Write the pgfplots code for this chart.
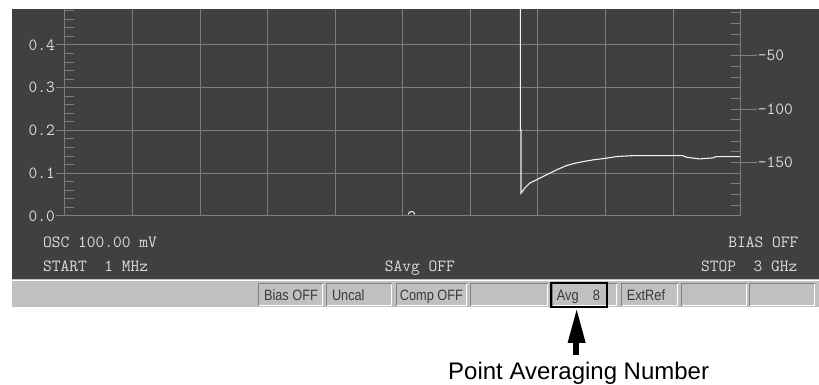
\documentclass[border=0pt]{standalone}
\usepackage{fontspec}
\usepackage{pgfplots}
\pgfplotsset{compat=1.18}
\newfontfamily\sbfont[FakeStretch=0.85]{Liberation Sans}
\newfontfamily\lsans{Liberation Sans}
\definecolor{bgdark}{HTML}{404040}
\definecolor{gridc}{HTML}{7E7E7E}
\definecolor{txtc}{HTML}{DCDCDC}
\definecolor{tracec}{HTML}{F2F2F2}
\definecolor{barc}{HTML}{C0C0C0}
\definecolor{edgedark}{HTML}{808080}
\definecolor{bartxt}{HTML}{3A3A3A}
\newcommand{\dispfont}{\fontsize{17bp}{17bp}\selectfont\ttfamily}
\newcommand{\barfont}{\sbfont\fontsize{15bp}{15bp}\selectfont}
\pgfdeclareplotmark{arcup}{%
  \pgfpathmoveto{\pgfpoint{-3.2bp}{-1.5bp}}%
  \pgfpathcurveto{\pgfpoint{-3.2bp}{2.4bp}}{\pgfpoint{3.2bp}{2.4bp}}{\pgfpoint{3.2bp}{-1.5bp}}%
  \pgfusepathqstroke}
\begin{document}
\begin{tikzpicture}
\begin{scope}[x=1bp,y=-1bp]
\path[use as bounding box] (0,0) rectangle (819,385);
\fill[white] (0,0) rectangle (819,385);
\fill[bgdark] (12,9) rectangle (819,279);
\end{scope}
% left axis
\begin{axis}[
  at={(65bp,-216bp)}, anchor=south west,
  width=676bp, height=207bp, scale only axis,
  xmin=0, xmax=10, ymin=0, ymax=0.4842,
  axis x line*=bottom, axis y line*=left,
  axis line style={draw=gridc, line width=1bp},
  xtick={0,1,...,10}, xticklabels={},
  ytick={0,0.1,0.2,0.3,0.4},
  yticklabels={0.0,0.1,0.2,0.3,0.4},
  grid=major,
  major grid style={draw=gridc, line width=1bp},
  tick style={draw=gridc, line width=1bp},
  xtick style={draw=none},
  tick align=outside, major tick length=9bp,
  extra y ticks={0.02,0.04,0.06,0.08,0.12,0.14,0.16,0.18,0.22,0.24,0.26,0.28,0.32,0.34,0.36,0.38,0.42,0.44,0.46,0.48},
  extra y tick labels={},
  extra y tick style={grid=none, tick align=inside, major tick length=9bp},
  yticklabel style={font=\dispfont, text=txtc, anchor=east, inner sep=0pt, xshift=-1bp},
  /pgf/number format/assume math mode=true,
]
\addplot[tracec, line width=1.1bp] coordinates {
(6.741,0.60) (6.741,0.201) (6.750,0.201) (6.750,0.053) (6.765,0.056)
(6.805,0.0648) (6.879,0.0765) (6.978,0.0842) (7.075,0.092) (7.175,0.0998)
(7.297,0.109) (7.422,0.1177) (7.544,0.123) (7.667,0.127) (7.815,0.131)
(8.013,0.135) (8.161,0.1388) (8.407,0.141) (9.146,0.141) (9.197,0.1373)
(9.393,0.1333) (9.590,0.1357) (9.641,0.1388) (10,0.1388)
};
\addplot[tracec, line width=1bp, only marks, mark=arcup] coordinates {(5.13,0.007)};
\end{axis}
% right axis
\begin{axis}[
  at={(65bp,-216bp)}, anchor=south west,
  width=676bp, height=207bp, scale only axis,
  xmin=0, xmax=10, ymin=-200, ymax=-6.3,
  axis x line=none, axis y line*=right,
  axis line style={draw=gridc, line width=1bp},
  ytick={-190,-180,...,-10},
  yticklabels={},
  tick style={draw=gridc, line width=1bp},
  tick align=inside, major tick length=10bp,
  extra y ticks={-150,-100,-50},
  extra y tick labels={{-150},{-100},{-50}},
  extra y tick style={tick align=outside, major tick length=16bp},
  yticklabel style={font=\dispfont, text=txtc, anchor=west, inner sep=0pt, xshift=1bp},
  /pgf/number format/assume math mode=true,
]
\end{axis}
\begin{scope}[x=1bp,y=-1bp]
% lower display text
\node[anchor=base west, inner sep=0pt, font=\dispfont, text=txtc] at (43,248) {OSC 100.00 mV};
\node[anchor=base west, inner sep=0pt, font=\dispfont, text=txtc] at (43,272) {START\ \ 1 MHz};
\node[anchor=base west, inner sep=0pt, font=\dispfont, text=txtc] at (385,272) {SAvg OFF};
\node[anchor=base east, inner sep=0pt, font=\dispfont, text=txtc] at (799,248) {BIAS OFF};
\node[anchor=base east, inner sep=0pt, font=\dispfont, text=txtc] at (798,272) {STOP\ \ 3 GHz};
% status bar
\fill[barc] (12,279) rectangle (819,307);
\draw[white, line width=1bp] (12,280.5) -- (819,280.5);
\foreach \a/\b in {259/323,327/392,397/467,471/548,553/617,622/678,682/747,750/815} {
  \draw[edgedark, line width=1bp] (\a,306) -- (\a,284) -- (\b,284);
  \draw[white, line width=1bp] (\b,284) -- (\b,306) -- (\a,306);
}
\node[anchor=base west, inner sep=0pt, font=\barfont, text=bartxt] at (264,300.5) {Bias OFF};
\node[anchor=base west, inner sep=0pt, font=\barfont, text=bartxt] at (332,300.5) {Uncal};
\node[anchor=base west, inner sep=0pt, font=\barfont, text=bartxt] at (400,300.5) {Comp OFF};
\node[anchor=base west, inner sep=0pt, font=\barfont, text=bartxt] at (557,300.5) {Avg};
\node[anchor=base west, inner sep=0pt, font=\barfont, text=bartxt] at (593,300.5) {8};
\node[anchor=base west, inner sep=0pt, font=\barfont, text=bartxt] at (627,300.5) {ExtRef};
\draw[black, line width=2bp] (551,283) rectangle (607,307);
% arrow and caption
\fill[black] (577,310) -- (586,343) -- (568,343) -- cycle;
\fill[black] (573.7,342) rectangle (579.7,355);
\node[anchor=base, inner sep=0pt, font=\lsans\fontsize{24bp}{24bp}\selectfont] at (579,380) {Point Averaging Number};
\end{scope}
\end{tikzpicture}
\end{document}
